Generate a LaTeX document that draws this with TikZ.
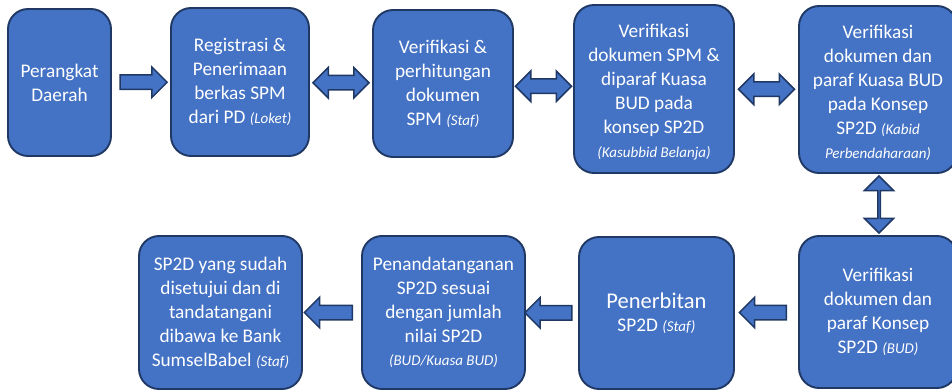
\documentclass[tikz,border=0pt]{standalone}
\usepackage{fontspec}
\setmainfont{Carlito}
\usetikzlibrary{shapes.arrows,calc}
\definecolor{boxfill}{HTML}{4472C4}
\definecolor{boxline}{HTML}{1F3864}
\newcommand\itsm[1]{{\fontsize{15}{21}\selectfont\itshape #1}}
\newcommand\topstrut{\rule{0pt}{20pt}}
\begin{document}
\begin{tikzpicture}[x=1pt,y=-1pt,
 box/.style={draw=boxline, line width=1.9pt, fill=boxfill, rounded corners=20pt, text=white, align=center, font=\fontsize{19.3}{23.5}\selectfont, inner sep=0pt},
 arr/.style={draw=boxline, line width=1.5pt, fill=boxfill, inner xsep=0pt, inner ysep=6.5pt, minimum width=29pt},
 sarr/.style={arr, shape=single arrow, single arrow head extend=8pt},
 darr/.style={arr, shape=double arrow, double arrow head extend=8pt},
]
\useasboundingbox (0,0) rectangle (952,390);
\clip (0,0) rectangle (952,390);
% top row
\node[box, minimum width=103pt, minimum height=147pt] (b1) at (59.5,82.5) {Perangkat\\[0.5pt]Daerah};
\node[box, minimum width=138pt, minimum height=148pt] (b2) at (240,82) {Registrasi \&\\[0.5pt]Penerimaan\\[0.5pt]berkas SPM\\[0.5pt]dari PD \itsm{(Loket)}};
\node[box, minimum width=140pt, minimum height=147pt] (b3) at (443,83.5) {Verifikasi \&\\[0.5pt]perhitungan\\[0.5pt]dokumen\\[0.5pt]SPM \itsm{(Staf)}};
\node[box, minimum width=160pt, minimum height=168pt] (b4) at (654,89) {\topstrut Verifikasi\\[0.5pt]dokumen SPM \&\\[0.5pt]diparaf Kuasa\\[0.5pt]BUD pada\\[0.5pt]konsep SP2D\\\itsm{(Kasubbid Belanja)}};
\node[box, minimum width=158pt, minimum height=167pt] (b5) at (878,89.5) {\topstrut Verifikasi\\[0.5pt]dokumen dan\\[0.5pt]paraf Kuasa BUD\\[0.5pt]pada Konsep\\[0.5pt]SP2D \itsm{(Kabid}\\\itsm{Perbendaharaan)}};
% bottom row
\node[box, minimum width=158pt, minimum height=152pt] (b6) at (878,312) {Verifikasi\\[0.5pt]dokumen dan\\[0.5pt]paraf Konsep\\[0.5pt]SP2D \itsm{(BUD)}};
\node[box, minimum width=155pt, minimum height=152pt] (b7) at (656.5,313) {{\fontsize{22.5}{26}\selectfont Penerbitan}\\SP2D \itsm{(Staf)}};
\node[box, minimum width=163pt, minimum height=153pt] (b8) at (443.5,312.5) {Penandatanganan\\[0.5pt]SP2D sesuai\\[0.5pt]dengan jumlah\\[0.5pt]nilai SP2D\\\itsm{(BUD/Kuasa BUD)}};
\node[box, minimum width=163pt, minimum height=153pt] (b9) at (220.5,312.5) {SP2D yang sudah\\[0.5pt]disetujui dan di\\[0.5pt]tandatangani\\[0.5pt]dibawa ke Bank\\[0.5pt]SumselBabel \itsm{(Staf)}};
% arrows
\node[sarr, minimum height=47pt] (a1) at ($(b1.east)!0.5!(b2.west)+(-1,0)$) {};
\node[darr, minimum height=56pt] (a2) at ($(b2.east)!0.5!(b3.west)$) {};
\node[darr, minimum height=56pt] (a3) at ($(b3.east)!0.5!(b4.west)$) {};
\node[darr, minimum height=56pt] (a4) at ($(b4.east)!0.5!(b5.west)$) {};
\node[darr, minimum height=57pt, shape border rotate=90] (a5) at ($(b5.south)!0.5!(b6.north)+(1,0)$) {};
\node[sarr, minimum height=47pt, shape border rotate=180] (a6) at ($(b6.west)!0.5!(b7.east)$) {};
\node[sarr, minimum height=47pt, shape border rotate=180] (a7) at ($(b7.west)!0.5!(b8.east)$) {};
\node[sarr, minimum height=48pt, shape border rotate=180] (a8) at ($(b8.west)!0.5!(b9.east)$) {};
\end{tikzpicture}
\end{document}
